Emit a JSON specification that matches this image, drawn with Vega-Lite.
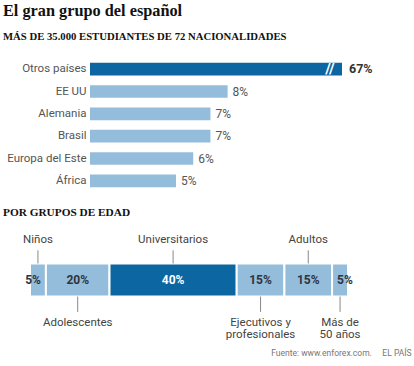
{
  "$schema": "https://vega.github.io/schema/vega-lite/v6.json",
  "padding": {"left": 3, "top": 2, "right": 0, "bottom": 0},
  "spacing": 14.5,
  "title": {
    "text": "Fuente: www.enforex.com.\u00a0\u00a0\u00a0\u00a0\u00a0EL PAÍS",
    "orient": "bottom", "anchor": "end", "font": "Roboto", "fontSize": 8.5,
    "fontWeight": "normal", "color": "#777", "offset": 8, "dx": 39
  },
  "config": {"view": {"stroke": null}},
  "vconcat": [
    {
      "title": {
        "text": "El gran grupo del español",
        "subtitle": "MÁS DE 35.000 ESTUDIANTES DE 72 NACIONALIDADES",
        "anchor": "start", "frame": "group", "dx": -27,
        "font": "Liberation Serif", "fontSize": 16.3, "fontWeight": "bold", "color": "#111",
        "subtitleFont": "Liberation Serif", "subtitleFontSize": 10.7, "subtitleFontWeight": "bold",
        "subtitleColor": "#111", "subtitlePadding": 13, "offset": 16.5
      },
      "width": 312,
      "height": 134,
      "data": {"values": [
        {"pais": "Otros países", "pct": 0.67},
        {"pais": "EE UU", "pct": 0.08},
        {"pais": "Alemania", "pct": 0.07},
        {"pais": "Brasil", "pct": 0.07},
        {"pais": "Europa del Este", "pct": 0.06},
        {"pais": "África", "pct": 0.05}
      ]},
      "encoding": {
        "y": {"field": "pais", "type": "nominal", "sort": null,
          "scale": {"paddingInner": 0.43, "paddingOuter": 0.215},
          "axis": {"title": null, "ticks": false, "domain": false, "labelFont": "Roboto", "offset": -60,
            "labelFontSize": 11.5, "labelColor": "#555", "labelPadding": 4}}
      },
      "layer": [
        {
          "mark": {"type": "bar"},
          "encoding": {
            "x": {"field": "pct", "type": "quantitative",
              "scale": {"domain": [0, 0.1465], "range": [60, 312], "clamp": true, "nice": false, "zero": true}, "axis": null},
            "color": {"condition": {"test": "datum.pct > 0.5", "value": "#0b66a1"}, "value": "#94bcdb"}
          }
        },
        {
          "transform": [{"filter": "datum.pct > 0.5"}],
          "mark": {"type": "text", "text": "//", "color": "white", "fontSize": 15, "fontWeight": "bold",
            "font": "Roboto", "align": "center", "dx": -12},
          "encoding": {"x": {"field": "pct", "type": "quantitative"}}
        },
        {
          "transform": [{"filter": "datum.pct > 0.5"}],
          "mark": {"type": "text", "align": "left", "dx": 7, "font": "Roboto", "fontSize": 12.5,
            "fontWeight": "bold", "color": "#333"},
          "encoding": {
            "x": {"field": "pct", "type": "quantitative"},
            "text": {"field": "pct", "type": "quantitative", "format": ".0%"}
          }
        },
        {
          "transform": [{"filter": "datum.pct <= 0.5"}],
          "mark": {"type": "text", "align": "left", "dx": 5, "font": "Roboto", "fontSize": 12,
            "color": "#555"},
          "encoding": {
            "x": {"field": "pct", "type": "quantitative"},
            "text": {"field": "pct", "type": "quantitative", "format": ".0%"}
          }
        }
      ]
    },
    {
      "title": {
        "text": "POR GRUPOS DE EDAD", "anchor": "start", "frame": "group", "dx": -27,
        "font": "Liberation Serif", "fontSize": 11.3, "fontWeight": "bold", "color": "#111", "offset": 12
      },
      "width": 318,
      "height": 110,
      "data": {"values": [
        {"grupo": "Niños", "pct": 0.05, "orden": 1, "lado": "arriba"},
        {"grupo": "Adolescentes", "pct": 0.20, "orden": 2, "lado": "abajo"},
        {"grupo": "Universitarios", "pct": 0.40, "orden": 3, "lado": "arriba"},
        {"grupo": "Ejecutivos y\nprofesionales", "pct": 0.15, "orden": 4, "lado": "abajo"},
        {"grupo": "Adultos", "pct": 0.15, "orden": 5, "lado": "arriba"},
        {"grupo": "Más de\n50 años", "pct": 0.05, "orden": 6, "lado": "abajo"}
      ]},
      "layer": [
        {
          "transform": [{"stack": "pct", "groupby": [], "sort": [{"field": "orden", "order": "ascending"}], "as": ["ini", "fin"]}],
          "mark": {"type": "bar", "stroke": "white", "strokeWidth": 2},
          "encoding": {
            "x": {"field": "ini", "type": "quantitative", "scale": {"domain": [0, 1], "nice": false}, "axis": null},
            "x2": {"field": "fin"},
            "y": {"datum": 4, "type": "quantitative", "scale": {"domain": [0, 10], "nice": false, "zero": false}, "axis": null},
            "y2": {"datum": 7},
            "color": {"condition": {"test": "datum.pct > 0.3", "value": "#0b66a1"}, "value": "#94bcdb"}
          }
        },
        {
          "mark": {"type": "rule", "color": "#888", "strokeWidth": 1},
          "encoding": {
            "x": {"field": "pct", "type": "quantitative", "stack": "zero", "bandPosition": 0.5},
            "order": {"field": "orden"},
            "y": {"datum": 7, "type": "quantitative"},
            "y2": {"datum": 8.2},
            "opacity": {"condition": {"test": "datum.lado === 'arriba'", "value": 1}, "value": 0}
          }
        },
        {
          "mark": {"type": "rule", "color": "#888", "strokeWidth": 1},
          "encoding": {
            "x": {"field": "pct", "type": "quantitative", "stack": "zero", "bandPosition": 0.5},
            "order": {"field": "orden"},
            "y": {"datum": 4, "type": "quantitative"},
            "y2": {"datum": 2.6},
            "opacity": {"condition": {"test": "datum.lado === 'abajo'", "value": 1}, "value": 0}
          }
        },
        {
          "mark": {"type": "text", "font": "Roboto", "fontSize": 11.5, "color": "#444", "baseline": "middle", "align": "center"},
          "encoding": {
            "x": {"field": "pct", "type": "quantitative", "stack": "zero", "bandPosition": 0.5},
            "order": {"field": "orden"},
            "y": {"datum": 9.15, "type": "quantitative"},
            "text": {"condition": {"test": "datum.lado === 'arriba'", "field": "grupo"}, "value": ""}
          }
        },
        {
          "mark": {"type": "text", "font": "Roboto", "fontSize": 11.5, "color": "#444", "baseline": "top",
            "align": "center", "lineBreak": "\n", "lineHeight": 12},
          "encoding": {
            "x": {"field": "pct", "type": "quantitative", "stack": "zero", "bandPosition": 0.5},
            "order": {"field": "orden"},
            "y": {"datum": 2.1, "type": "quantitative"},
            "text": {"condition": {"test": "datum.lado === 'abajo'", "field": "grupo"}, "value": ""}
          }
        },
        {
          "mark": {"type": "text", "font": "Roboto", "fontSize": 12, "fontWeight": "bold", "baseline": "middle", "align": "center"},
          "encoding": {
            "x": {"field": "pct", "type": "quantitative", "stack": "zero", "bandPosition": 0.5},
            "order": {"field": "orden"},
            "y": {"datum": 5.5, "type": "quantitative"},
            "text": {"condition": {"test": "datum.orden > 1 && datum.orden < 6", "field": "pct", "format": ".0%"}, "value": ""},
            "color": {"condition": {"test": "datum.pct > 0.3", "value": "white"}, "value": "#2e3440"}
          }
        },
        {
          "mark": {"type": "text", "font": "Roboto", "fontSize": 12, "fontWeight": "bold", "baseline": "middle", "align": "right", "dx": -5, "color": "#2e3440"},
          "encoding": {
            "x": {"field": "pct", "type": "quantitative", "stack": "zero", "bandPosition": 1},
            "order": {"field": "orden"},
            "y": {"datum": 5.5, "type": "quantitative"},
            "text": {"condition": {"test": "datum.orden === 1", "field": "pct", "format": ".0%"}, "value": ""}
          }
        },
        {
          "mark": {"type": "text", "font": "Roboto", "fontSize": 12, "fontWeight": "bold", "baseline": "middle", "align": "left", "dx": 5, "color": "#2e3440"},
          "encoding": {
            "x": {"field": "pct", "type": "quantitative", "stack": "zero", "bandPosition": 0},
            "order": {"field": "orden"},
            "y": {"datum": 5.5, "type": "quantitative"},
            "text": {"condition": {"test": "datum.orden === 6", "field": "pct", "format": ".0%"}, "value": ""}
          }
        }
      ]
    }
  ]
}
